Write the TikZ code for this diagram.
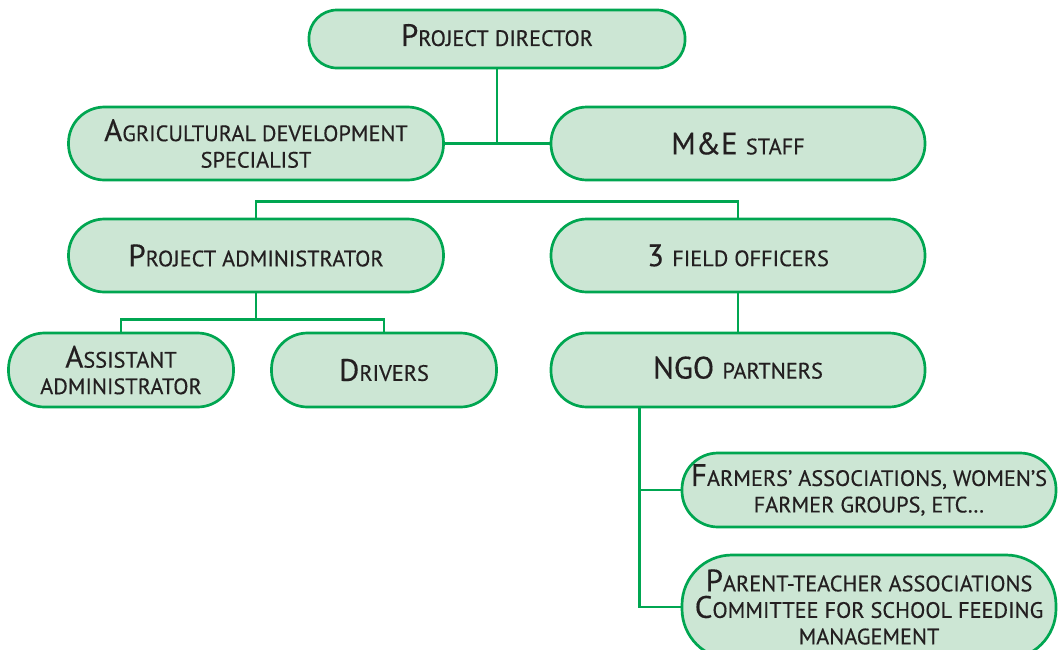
\documentclass[tikz,border=0pt]{standalone}
\usepackage{fontspec}
\setmainfont{PT Sans}
\newfontfamily\orgfont{PT Sans}[FakeBold=0.4]
\newcommand\smc[1]{{\fontsize{22.3}{27}\selectfont #1}}
\definecolor{boxfill}{RGB}{204,230,212}
\definecolor{boxline}{RGB}{0,166,81}
\definecolor{txt}{RGB}{35,31,32}
\begin{document}
\begin{tikzpicture}[x=1pt,y=-1pt,
  orgbox/.style={draw=boxline, fill=boxfill, line width=2.7pt, rounded corners=#1,
    align=center, text=txt, inner sep=0pt,
    font=\orgfont\fontsize{31}{26.5}\selectfont},
  orgbox/.default=36pt,
  link/.style={draw=boxline, line width=2.7pt}]
\useasboundingbox (0,0) rectangle (1061,649);
\fill[white] (0,0) rectangle (1061,649);
\node[orgbox=28pt, minimum width=376pt, minimum height=58pt, text depth=8pt] (PD) at (497,39) {P\smc{ROJECT DIRECTOR}};
\node[orgbox, minimum width=375pt, minimum height=73pt] (AG) at (256,143.5) {A\smc{GRICULTURAL DEVELOPMENT}\\\smc{SPECIALIST}};
\node[orgbox, minimum width=374pt, minimum height=73pt] (ME) at (738,143.5) {M\&E \smc{STAFF}};
\node[orgbox, minimum width=375pt, minimum height=73pt] (PA) at (256,255.5) {P\smc{ROJECT ADMINISTRATOR}};
\node[orgbox, minimum width=374pt, minimum height=73pt] (FO) at (738,255.5) {3 \smc{FIELD OFFICERS}};
\node[orgbox, minimum width=225pt, minimum height=74pt] (AS) at (121,370) {A\smc{SSISTANT}\\\smc{ADMINISTRATOR}};
\node[orgbox, minimum width=225pt, minimum height=74pt] (DR) at (384,370) {D\smc{RIVERS}};
\node[orgbox, minimum width=374pt, minimum height=74pt, text depth=5pt] (NGO) at (738,370) {NGO \smc{PARTNERS}};
\node[orgbox, minimum width=374pt, minimum height=74pt] (FA) at (869,490) {F\smc{ARMERS’ ASSOCIATIONS, WOMEN’S}\\\smc{FARMER GROUPS, ETC…}};
\node[orgbox=50pt, minimum width=374pt, minimum height=104pt] (PT) at (869,607) {P\smc{ARENT-TEACHER ASSOCIATIONS}\\C\smc{OMMITTEE FOR SCHOOL FEEDING}\\\smc{MANAGEMENT}};
% connectors
\path[link] (PD.south) -- (PD.south |- AG.east);
\path[link] (AG.east) -- (ME.west);
\path[link] (PA.north) -- ++(0,-16) -| (FO.north);
\path[link] (PA.south) -- ++(0,26) coordinate (pab);
\path[link] (AS.north) |- (pab) -| (DR.north);
\path[link] (FO.south) -- (NGO.north);
\coordinate (ngob) at ([xshift=90pt]NGO.south west);
\path[link] (ngob) |- (PT.west);
\path[link] (ngob |- FA.west) -- (FA.west);
\end{tikzpicture}
\end{document}
